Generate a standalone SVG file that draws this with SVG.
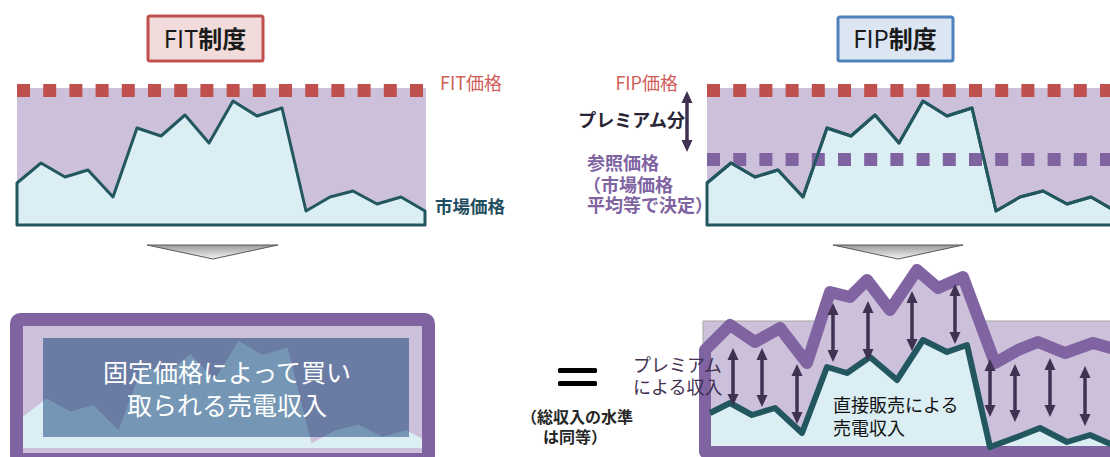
<svg xmlns="http://www.w3.org/2000/svg" width="1110" height="457" viewBox="0 0 1110 457">
<style>
text{font-family:"Noto Sans CJK JP","Liberation Sans",sans-serif;}
.bg{fill:#ccc0da;}
.mkt{fill:#daeef3;stroke:#23575f;stroke-width:3;stroke-linejoin:round;}
.mkt-line{fill:none;stroke:#23575f;stroke-width:3;stroke-linejoin:round;}
.red-dots{stroke:#c0504d;stroke-width:13;stroke-dasharray:13 13.2;}
.pur-dots{stroke:#8064a2;stroke-width:13;stroke-dasharray:13 13.2;}
.darr{stroke:#3f3151;stroke-width:3.5;marker-start:url(#head);marker-end:url(#head);}
.lbl-red{fill:#d0605a;font-size:18px;}
.lbl-pur{fill:#8064a2;font-size:18px;font-weight:bold;}
.lbl-dark{fill:#2a2535;font-size:18px;font-weight:bold;}
.title{font-size:24px;fill:#1a1a1a;text-anchor:middle;}
.down{fill:url(#grayGrad);stroke:#595959;stroke-width:1;stroke-linejoin:round;}
</style>
<defs>
<path id="line" d="M17,183 L41,163 L65,177 L88,170 L113,197 L137,128 L161,136 L185,115 L209,143 L233,101 L257,116 L282,108 L306,211 L330,197 L353,191 L377,204 L401,197 L425,211"/>
<path id="area" d="M17,183 L41,163 L65,177 L88,170 L113,197 L137,128 L161,136 L185,115 L209,143 L233,101 L257,116 L282,108 L306,211 L330,197 L353,191 L377,204 L401,197 L425,211 L425,225 L17,225 Z"/>
<marker id="head" viewBox="0 0 12 12" markerUnits="userSpaceOnUse" markerWidth="12" markerHeight="12" refX="1" refY="6" orient="auto-start-reverse">
<path d="M0,0.5 L12,6 L0,11.5 Z" fill="#3f3151"/>
</marker>
<linearGradient id="grayGrad" x1="0" y1="0" x2="0" y2="1">
<stop offset="0" stop-color="#9a9a9a"/>
<stop offset="1" stop-color="#f4f4f4"/>
</linearGradient>
<clipPath id="clipInner"><rect x="23" y="327" width="399" height="121"/></clipPath>
<clipPath id="clipBox"><rect x="43" y="338" width="366" height="99"/></clipPath>
</defs>

<!-- FIT title -->
<g id="fit-title">
<rect x="148" y="16" width="115" height="45" rx="2" fill="#f2dcdb" stroke="#c0504d" stroke-width="3"/>
<text class="title" x="205" y="48">FIT<tspan font-weight="bold">制度</tspan></text>
</g>

<!-- FIP title -->
<g id="fip-title">
<rect x="838" y="17" width="115" height="44" rx="2" fill="#dce6f2" stroke="#4f81bd" stroke-width="3"/>
<text class="title" x="895" y="48">FIP<tspan font-weight="bold">制度</tspan></text>
</g>

<!-- FIT chart -->
<g id="fit-chart">
<rect class="bg" x="17" y="88" width="409" height="138"/>
<use href="#area" class="mkt"/>
<line class="red-dots" x1="17" y1="90.5" x2="426" y2="90.5"/>
<text class="lbl-red" x="440" y="89.5">FIT価格</text>
<text x="435" y="212.5" font-size="17.5" font-weight="bold" fill="#1f4e5f">市場価格</text>
</g>

<!-- FIP chart -->
<g id="fip-chart">
<rect class="bg" x="707" y="88" width="410" height="137"/>
<use href="#area" class="mkt" transform="translate(690,0)"/>
<line class="pur-dots" x1="707" y1="159.5" x2="1110" y2="159.5"/>
<use href="#line" class="mkt-line" transform="translate(690,0)"/>
<line class="red-dots" x1="707" y1="90.5" x2="1110" y2="90.5"/>
<line class="darr" x1="687" y1="102" x2="687" y2="141" stroke-width="4"/>
<text class="lbl-red" x="678" y="89.5" text-anchor="end">FIP価格</text>
<text class="lbl-dark" x="685" y="127" text-anchor="end">プレミアム分</text>
<text class="lbl-pur" x="587" y="170">参照価格</text>
<text class="lbl-pur" x="583" y="191.5">（市場価格</text>
<text class="lbl-pur" x="587" y="212">平均等で決定）</text>
</g>

<!-- connectors: down arrows -->
<g id="connectors">
<path class="down" d="M147,245 L278,245 L213,259 Z"/>
<path class="down" d="M833,245 L963,245 L898,259 Z"/>
</g>

<!-- FIT revenue box -->
<g id="fit-revenue">
<rect x="16.5" y="319.5" width="412" height="140" rx="4" fill="#ccc0da" stroke="#8064a2" stroke-width="13"/>
<g clip-path="url(#clipInner)">
<use href="#area" fill="#daeef3" transform="matrix(1,0,0,0.93,5.5,247)"/>
</g>
<rect x="43" y="338" width="366" height="99" fill="#6b7ca4"/>
<g clip-path="url(#clipBox)">
<use href="#area" fill="#7597b5" transform="matrix(1,0,0,0.93,5.5,247)"/>
</g>
<text x="227" y="381.5" font-size="25" fill="#ffffff" text-anchor="middle">固定価格によって買い</text>
<text x="227" y="414.5" font-size="25" fill="#ffffff" text-anchor="middle">取られる売電収入</text>
</g>

<!-- equals -->
<g id="equals">
<rect x="558" y="368" width="39" height="5" rx="1.5" fill="#000"/>
<rect x="558" y="381" width="39" height="5" rx="1.5" fill="#000"/>
<text x="577" y="423" font-size="16" font-weight="bold" fill="#262626" text-anchor="middle">（総収入の水準</text>
<text x="575" y="443" font-size="16" font-weight="bold" fill="#262626" text-anchor="middle">は同等）</text>
</g>

<!-- FIP revenue chart -->
<g id="fip-revenue">
<rect x="703" y="321" width="420" height="140" fill="#ccc0da" stroke="#a6a6a6" stroke-width="1"/>
<polygon points="705,350 730,325 755,342 780,328 807,363 830,292 850,297 867,280 890,310 917,270 938,288 963,277 995,363 1018,350 1038,342 1065,353 1093,343 1125,352 1125,452 705,452" fill="#ccc0da" stroke="#8064a2" stroke-width="12" stroke-linejoin="round"/>
<polygon points="711,413 730,403 752,415 775,408 802,433 827,367 847,373 870,357 897,380 923,340 947,352 967,345 990,446 1017,437 1040,428 1067,442 1090,435 1110,443 1120,446 711,446" fill="#daeef3"/>
<polyline points="710,413 730,403 752,415 775,408 802,433 827,367 847,373 870,357 897,380 923,340 947,352 967,345 990,447 1017,437 1040,428 1067,442 1090,435 1115,446" fill="none" stroke="#23575f" stroke-width="6" stroke-linejoin="round"/>
<g id="premium-arrows">
<line class="darr" x1="733" y1="359" x2="733" y2="395"/>
<line class="darr" x1="762" y1="359" x2="762" y2="396"/>
<line class="darr" x1="797" y1="375" x2="797" y2="413"/>
<line class="darr" x1="833" y1="314" x2="833" y2="351"/>
<line class="darr" x1="868" y1="312" x2="868" y2="350"/>
<line class="darr" x1="912" y1="302" x2="912" y2="340"/>
<line class="darr" x1="955" y1="295" x2="955" y2="333"/>
<line class="darr" x1="990" y1="370" x2="990" y2="406"/>
<line class="darr" x1="1015" y1="375" x2="1015" y2="411"/>
<line class="darr" x1="1050" y1="369" x2="1050" y2="406"/>
<line class="darr" x1="1085" y1="377" x2="1085" y2="415"/>
</g>
<text x="633" y="372" font-size="18" fill="#3f3151">プレミアム</text>
<text x="633" y="394" font-size="18" fill="#3f3151">による収入</text>
<text x="833" y="412" font-size="18" fill="#111111">直接販売による</text>
<text x="833" y="435" font-size="18" fill="#111111">売電収入</text>
</g>
</svg>
